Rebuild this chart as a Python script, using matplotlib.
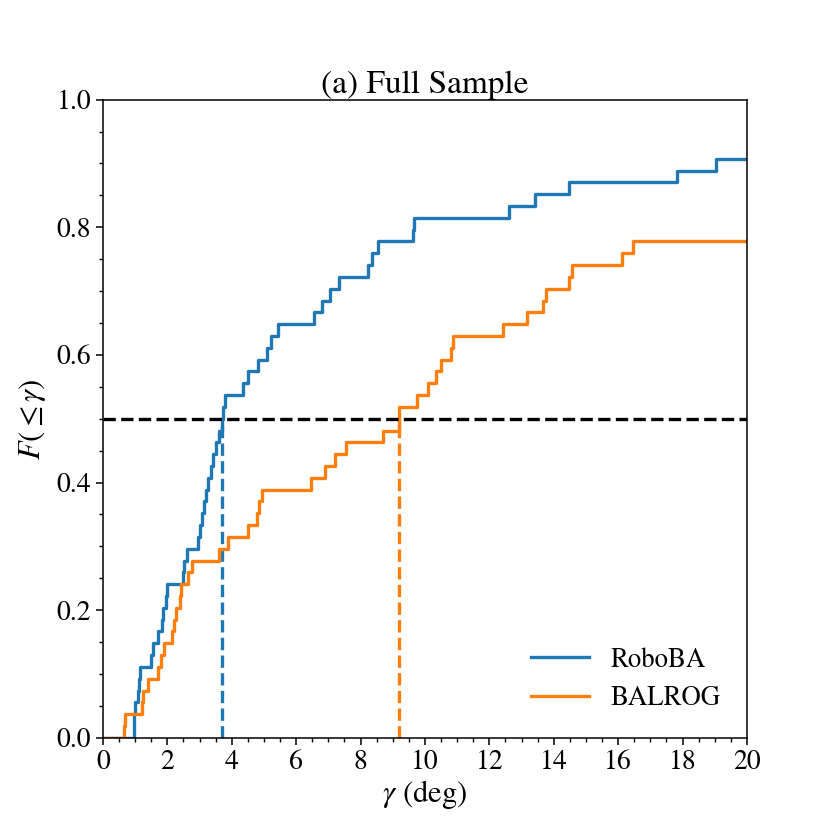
import numpy as np
import matplotlib
matplotlib.use('Agg')
import matplotlib.pyplot as plt
from matplotlib.ticker import MultipleLocator

plt.rcParams['font.family'] = ['STIXGeneral', 'Liberation Serif', 'DejaVu Serif']
plt.rcParams['mathtext.fontset'] = 'stix'

N_TOTAL = 54

# sorted offsets gamma (deg), only the ones below 20 deg
roboba_gamma = [0.95, 0.97, 1.00, 1.08, 1.12, 1.15, 1.48, 1.55, 1.72, 1.82,
                1.87, 1.95, 1.98, 2.49, 2.52, 2.60, 2.96, 3.02, 3.08, 3.15,
                3.20, 3.25, 3.35, 3.43, 3.50, 3.60, 3.70, 3.74, 3.80, 4.34,
                4.51, 4.82, 5.10, 5.21, 5.45, 6.56, 6.81, 7.05, 7.33, 8.24,
                8.37, 8.55, 9.62, 9.67, 12.62, 13.42, 14.47, 17.84, 19.03]
balrog_gamma = [0.64, 0.68, 1.20, 1.25, 1.41, 1.72, 1.80, 1.90, 2.16, 2.20,
                2.27, 2.40, 2.44, 2.65, 2.78, 3.61, 3.89, 4.49, 4.77, 4.85,
                4.95, 6.45, 6.90, 7.20, 7.54, 8.70, 9.19, 9.19, 9.74, 10.10,
                10.33, 10.50, 10.80, 10.88, 12.43, 13.18, 13.67, 13.75, 14.47,
                14.56, 16.13, 16.47]

labels = ['RoboBA', 'BALROG']
colors = ['#1f77b4', '#ff7f0e']
medians = [3.70, 9.19]

fig, ax = plt.subplots(figsize=(8.3, 8.3), dpi=100)
fig.subplots_adjust(left=0.124, right=0.9, bottom=0.111, top=0.88)

for g, lab, c, med in zip([roboba_gamma, balrog_gamma], labels, colors, medians):
    g = np.array(g)
    frac = np.arange(1, len(g) + 1) / N_TOTAL
    xs = np.r_[0, g, 20]
    ys = np.r_[0, frac, frac[-1]]
    ax.step(xs, ys, where='post', color=c, lw=2.4, label=lab)
    ax.plot([med, med], [0, 0.5], ls='--', color=c, lw=2.4)

ax.axhline(0.5, ls='--', color='k', lw=2.4)

ax.set_xlim(0, 20)
ax.set_ylim(0, 1)
ax.xaxis.set_major_locator(MultipleLocator(2))
ax.xaxis.set_minor_locator(MultipleLocator(0.5))
ax.yaxis.set_major_locator(MultipleLocator(0.2))
ax.yaxis.set_minor_locator(MultipleLocator(0.05))
ax.tick_params(labelsize=20, which='major', length=5, width=1.1)
ax.tick_params(which='minor', length=3, width=1.0)
for s in ax.spines.values():
    s.set_linewidth(1.1)

ax.set_xlabel(r'$\gamma$ (deg)', fontsize=22, labelpad=2)
ax.set_ylabel(r'$F(\leq\gamma)$', fontsize=22, labelpad=6)
ax.set_title('(a) Full Sample', fontsize=24, pad=5)
ax.legend(loc='lower right', frameon=False, fontsize=19.3, handlelength=2.16,
          handletextpad=0.8, borderaxespad=0.6)

fig.savefig('out.png', dpi=100)
